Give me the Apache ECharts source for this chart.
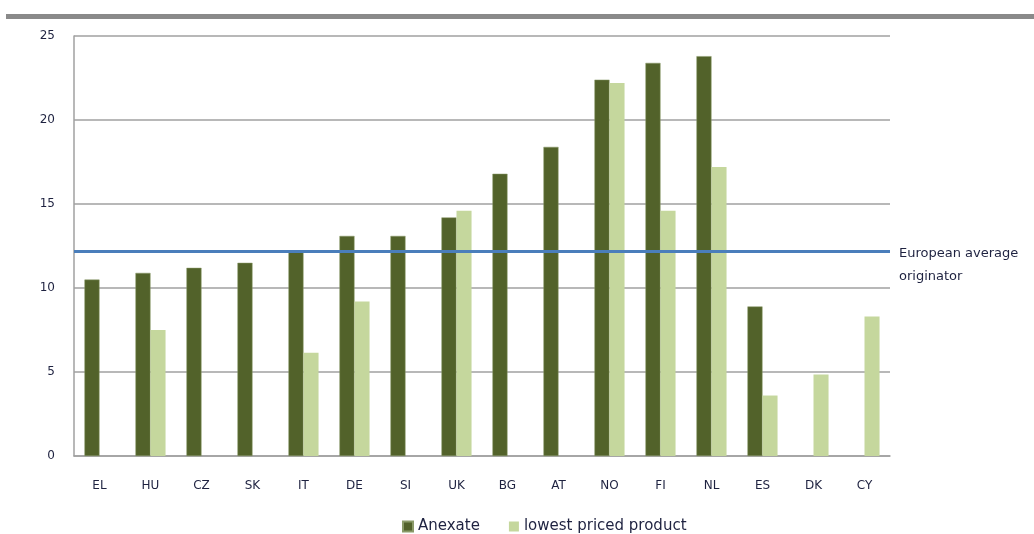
<!DOCTYPE html>
<html>
<head>
<meta charset="utf-8">
<script src="https://cdn.jsdelivr.net/npm/echarts@6/dist/echarts.min.js"></script>
<style>html,body{margin:0;padding:0;background:#fff}#c{width:1034px;height:534px}</style>
</head>
<body>
<div id="c"></div>
<script>
var categories = ['EL','HU','CZ','SK','IT','DE','SI','UK','BG','AT','NO','FI','NL','ES','DK','CY'];
var anexate = [10.5, 10.9, 11.2, 11.5, 12.2, 13.1, 13.1, 14.2, 16.8, 18.4, 22.4, 23.4, 23.8, 8.9, null, null];
var lowestPriced = [null, 7.5, null, null, 6.15, 9.2, null, 14.6, null, null, 22.2, 14.6, 17.2, 3.6, 4.85, 8.3];
var europeanAverage = 12.17;
var yTicks = [0, 5, 10, 15, 20, 25];

var font = 'DejaVu Sans';
var chart = echarts.init(document.getElementById('c'));
chart.setOption({
  animation: false,
  backgroundColor: '#fff',
  textStyle: { fontFamily: font },
  graphic: [
    { type: 'rect', shape: { x: 6, y: 14, width: 1028, height: 5 }, style: { fill: '#8a8a8a' } }
  ],
  grid: { left: 74, right: 144, top: 36, bottom: 78 },
  legend: {
    data: ['Anexate', 'lowest priced product'],
    top: 514,
    left: 397,
    itemWidth: 10,
    itemHeight: 10,
    itemGap: 29,
    icon: 'rect',
    textStyle: { fontSize: 15, color: '#1e2240', fontFamily: font }
  },
  xAxis: {
    type: 'category',
    data: categories,
    axisLine: { lineStyle: { color: '#a0a0a0', width: 1.5 } },
    axisTick: { show: false },
    axisLabel: { color: '#1e2240', fontSize: 12, margin: 24 }
  },
  yAxis: {
    type: 'value',
    min: yTicks[0],
    max: yTicks[yTicks.length - 1],
    interval: 5,
    axisLine: { show: true, lineStyle: { color: '#a0a0a0', width: 1.5 } },
    axisTick: { show: false },
    splitLine: { lineStyle: { color: '#a0a0a0', width: 1.5 } },
    axisLabel: { color: '#1e2240', fontSize: 12, margin: 19 }
  },
  series: [
    {
      name: 'Anexate',
      type: 'bar',
      data: anexate,
      barGap: '0%',
      barCategoryGap: '41%',
      itemStyle: { color: '#52622a', borderColor: '#8a9a68', borderWidth: 0.5 },
      markLine: {
        silent: true,
        symbol: 'none',
        data: [{ yAxis: europeanAverage }],
        lineStyle: { color: '#4a7ebb', width: 3, type: 'solid' },
        label: {
          show: true,
          position: 'end',
          distance: 9,
          formatter: 'European average\noriginator',
          color: '#1e2240',
          fontSize: 13,
          lineHeight: 23,
          align: 'left',
          verticalAlign: 'top',
          offset: [0, -9]
        }
      }
    },
    {
      name: 'lowest priced product',
      type: 'bar',
      data: lowestPriced,
      itemStyle: { color: '#c5d79d' }
    }
  ]
});
</script>
</body>
</html>
